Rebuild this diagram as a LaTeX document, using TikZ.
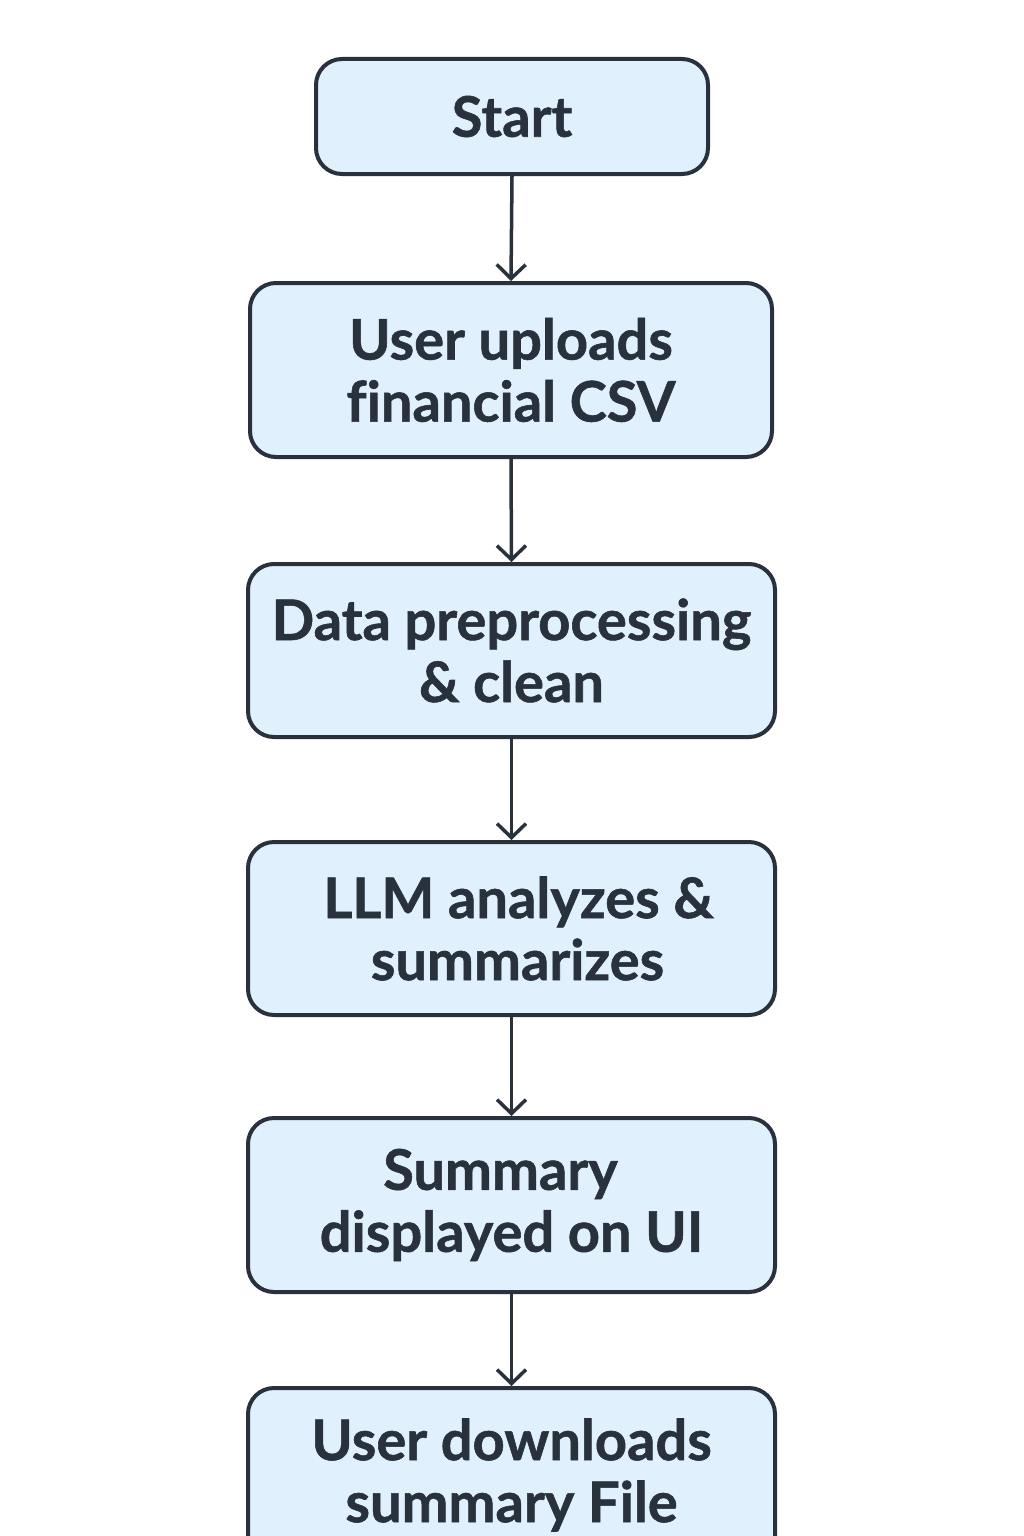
\documentclass[tikz,border=0pt]{standalone}
\usepackage{fontspec}
\setmainfont{Lato}[Ligatures=NoCommon, BoldFeatures={FakeBold=1}]
\usetikzlibrary{arrows.meta}
\definecolor{boxfill}{HTML}{E0F0FD}
\definecolor{ink}{HTML}{29313D}
\tikzset{
  stepbox/.style={draw=ink, line width=4pt, fill=boxfill, rounded corners=26pt,
    inner sep=0pt, align=center, text=ink,
    font=\fontsize{56}{62}\selectfont\bfseries},
  flow/.style={draw=ink, line width=3.5pt, -{Straight Barb[length=14pt,width=29pt,line width=3.5pt]}}
}
\begin{document}
\begin{tikzpicture}[x=1pt,y=-1pt]
\useasboundingbox (0,0) rectangle (1024,1536);
\fill[white] (0,0) rectangle (1024,1536);
\clip (0,0) rectangle (1024,1536);
\node[stepbox, minimum width=392pt, minimum height=115pt] (s) at (512,116.5) {Start};
\node[stepbox, minimum width=522pt, minimum height=174pt] (b1) at (511,370) {User uploads\\financial CSV};
\node[stepbox, minimum width=527pt, minimum height=173pt] (b2) at (511.5,650.5) {Data preprocessing\\\& clean};
\node[stepbox, minimum width=527pt, minimum height=173pt] (b3) at (511.5,928.5) {\hspace*{14pt}LLM analyzes \&\\\hspace*{12pt}summarizes};
\node[stepbox, minimum width=527pt, minimum height=174pt] (b4) at (511.5,1205) {\hspace*{-22pt}Summary\\displayed on UI};
\node[stepbox, minimum width=527pt, minimum height=174pt] (b5) at (511.5,1475) {User downloads\\summary File};
\draw[flow] (s.south) -- (b1.north);
\draw[flow] (b1.south) -- (b2.north);
\draw[flow] (b2.south) -- (b3.north);
\draw[flow] (b3.south) -- (b4.north);
\draw[flow] (b4.south) -- (b5.north);
\end{tikzpicture}
\end{document}
